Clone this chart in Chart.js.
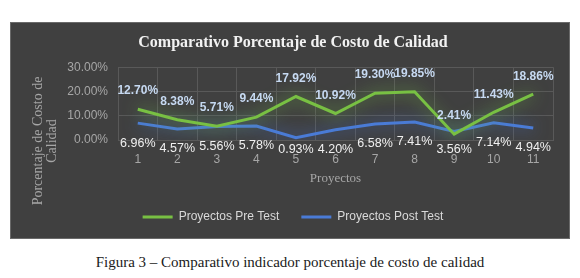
<!DOCTYPE html>
<html lang="es">
<head>
<meta charset="UTF-8">
<title>Comparativo Porcentaje de Costo de Calidad</title>
<script src="https://cdn.jsdelivr.net/npm/chart.js@4.4.1/dist/chart.umd.min.js"></script>
<style>
  body { margin: 0; background: #fff; width: 580px; height: 278px; position: relative; overflow: hidden; }
  #panel { position: absolute; left: 11px; top: 23px; width: 558px; height: 215px; background: #404040; box-shadow: 0 0 0 1px #6a6a6a; }
  #caption { position: absolute; left: 0; top: 254px; width: 580px; text-align: center; line-height: 18px;
             font: 15px "Liberation Serif", serif; color: #1a1a1a; }
</style>
</head>
<body>
<div id="panel"><canvas id="chart" width="558" height="215"></canvas></div>
<div id="caption">Figura 3 – Comparativo indicador porcentaje de costo de calidad</div>
<script>
// datos del gráfico
const proyectos = ['1', '2', '3', '4', '5', '6', '7', '8', '9', '10', '11'];
const preTest  = [12.70, 8.38, 5.71, 9.44, 17.92, 10.92, 19.30, 19.85, 2.41, 11.43, 18.86];
const postTest = [6.96, 4.57, 5.56, 5.78, 0.93, 4.20, 6.58, 7.41, 3.56, 7.14, 4.94];
const nombres  = ['Proyectos Pre Test', 'Proyectos Post Test'];
const yTicks   = [0, 10, 20, 30];

const verde = '#78c043';
const azul  = '#4a7bd6';
const fmt = v => v.toFixed(2) + '%';

// brillo alrededor de las líneas
const glow = {
  id: 'glow',
  beforeDatasetDraw(chart, args) {
    const ctx = chart.ctx;
    ctx.save();
    ctx.shadowColor = args.index === 0 ? 'rgba(120,200,70,0.8)' : 'rgba(70,120,230,0.8)';
    ctx.shadowBlur = 16;
  },
  afterDatasetDraw(chart) {
    chart.ctx.restore();
  }
};

// etiquetas de datos
const etiquetas = {
  id: 'etiquetas',
  afterDatasetsDraw(chart) {
    const ctx = chart.ctx;
    ctx.save();
    ctx.textAlign = 'center';
    ctx.textBaseline = 'middle';
    chart.data.datasets.forEach((ds, i) => {
      const meta = chart.getDatasetMeta(i);
      meta.data.forEach((pt, j) => {
        if (i === 0) {
          ctx.font = 'bold 12px "Liberation Sans", sans-serif';
          ctx.fillStyle = '#c6d9f1';
          ctx.fillText(fmt(ds.data[j]), pt.x, pt.y - 18);
        } else {
          ctx.font = '12.5px "Liberation Sans", sans-serif';
          ctx.fillStyle = '#f0f0f0';
          ctx.fillText(fmt(ds.data[j]), pt.x, Math.min(pt.y + 20, chart.chartArea.bottom + 10));
        }
      });
    });
    ctx.restore();
  }
};

// título del eje Y (dos líneas, más abajo que el centro del área)
const tituloY = {
  id: 'tituloY',
  afterDraw(chart) {
    const ctx = chart.ctx;
    ctx.save();
    ctx.font = '14px "Liberation Serif", serif';
    ctx.fillStyle = '#a6a6a6';
    ctx.textAlign = 'center';
    ctx.textBaseline = 'middle';
    ctx.translate(27, 118);
    ctx.rotate(-Math.PI / 2);
    ctx.fillText('Porcentaje de Costo de', 0, 0);
    ctx.fillText('Calidad', 0, 14);
    ctx.restore();
  }
};

new Chart(document.getElementById('chart'), {
  type: 'line',
  data: {
    labels: proyectos,
    datasets: [
      { label: nombres[0], data: preTest, borderColor: verde, backgroundColor: verde, borderWidth: 3, pointRadius: 0, tension: 0 },
      { label: nombres[1], data: postTest, borderColor: azul, backgroundColor: azul, borderWidth: 3, pointRadius: 0, tension: 0 }
    ]
  },
  options: {
    responsive: false,
    animation: false,
    layout: { padding: { left: 22, right: 16, top: 0, bottom: 5 } },
    plugins: {
      tooltip: { enabled: false },
      title: {
        display: true,
        text: 'Comparativo Porcentaje de Costo de Calidad',
        color: '#f2f2f2',
        font: { family: '"Liberation Serif", serif', size: 16, weight: 'bold' },
        padding: { top: 10, bottom: 15 }
      },
      legend: {
        position: 'bottom',
        labels: {
          color: '#d9d9d9',
          font: { family: '"Liberation Sans", sans-serif', size: 12 },
          boxWidth: 30,
          boxHeight: 3,
          padding: 22,
          generateLabels(chart) {
            return Chart.defaults.plugins.legend.labels.generateLabels(chart).map(l => ({ ...l, lineWidth: 0 }));
          }
        }
      }
    },
    scales: {
      x: {
        offset: true,
        grid: { offset: true, color: '#595959', drawTicks: false },
        border: { color: '#595959' },
        ticks: { color: '#a6a6a6', padding: 12, font: { family: '"Liberation Sans", sans-serif', size: 12 } },
        title: {
          display: true, text: 'Proyectos', color: '#a6a6a6',
          font: { family: '"Liberation Serif", serif', size: 13 },
          padding: { top: 0, bottom: 3 }
        },
        afterFit(scale) { scale.height = 49; }
      },
      y: {
        min: 0,
        max: 30,
        afterBuildTicks(scale) { scale.ticks = yTicks.map(v => ({ value: v })); },
        grid: { color: '#595959', drawTicks: false },
        border: { display: false },
        ticks: { color: '#a6a6a6', padding: 10, font: { family: '"Liberation Sans", sans-serif', size: 12 }, callback: v => fmt(v) },
        afterFit(scale) { scale.width = 85; }
      }
    }
  },
  plugins: [glow, etiquetas, tituloY]
});
</script>
</body>
</html>
